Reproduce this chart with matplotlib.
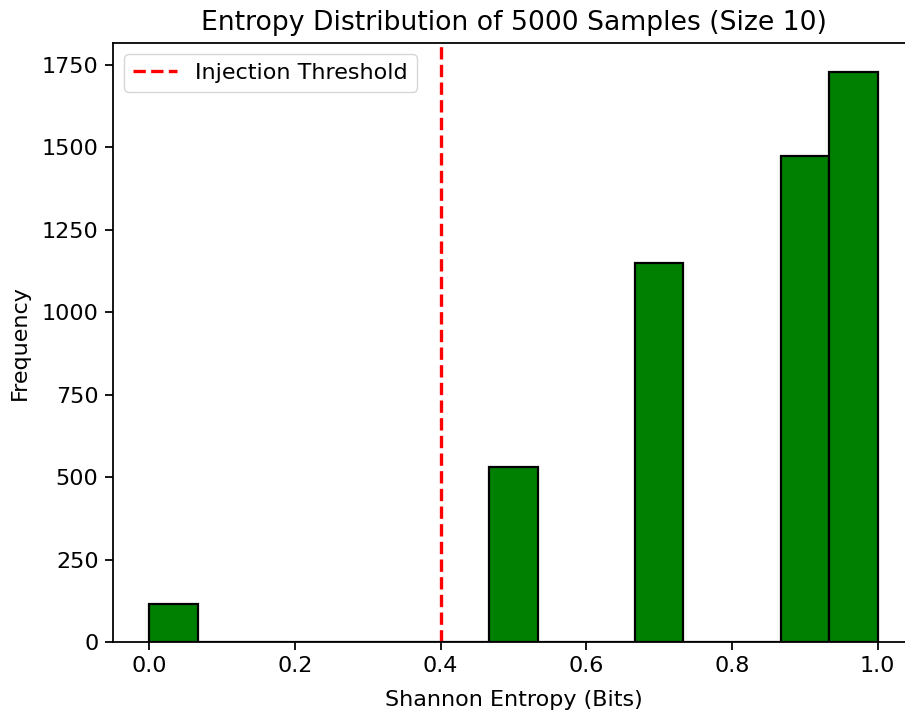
import numpy as np
import matplotlib
matplotlib.use("Agg")
import matplotlib.pyplot as plt

# entropy levels of binary samples of size 10 and how often each showed up
entropy_levels = [0.0, 0.469, 0.722, 0.881, 0.971, 1.0]
level_counts = [116, 530, 1148, 1473, 1080, 650]
threshold = 0.4
n_bins = 15

s = 1.6  # scale from default 100 dpi look
fig = plt.figure(figsize=(9.05, 7.1), dpi=100)
ax = fig.add_axes([113 / 905, 68 / 710, 801 / 905, 599 / 710])

ax.hist(entropy_levels, bins=n_bins, range=(0, 1), weights=level_counts,
        color='green', edgecolor='black', linewidth=1.0 * s)
ax.axvline(threshold, color='red', linestyle='--', linewidth=1.5 * s,
           label='Injection Threshold')

ax.set_title('Entropy Distribution of 5000 Samples (Size 10)', fontsize=12 * s, pad=6 * s)
ax.set_xlabel('Shannon Entropy (Bits)', fontsize=10 * s, labelpad=6 * s)
ax.set_ylabel('Frequency', fontsize=10 * s, labelpad=5.5 * s)
ax.tick_params(labelsize=10 * s, width=0.8 * s, length=3.5 * s, pad=3 * s)
for sp in ax.spines.values():
    sp.set_linewidth(0.8 * s)
ax.legend(loc='upper left', fontsize=10 * s)

plt.savefig('out.png', dpi=100)
